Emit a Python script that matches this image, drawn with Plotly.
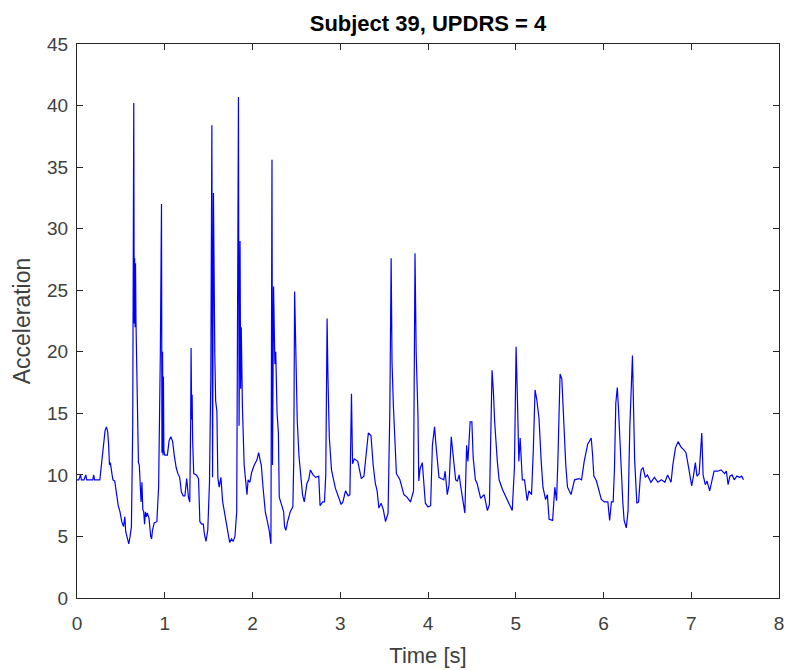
import plotly.graph_objects as go

time_s = [
    0.000, 0.02, 0.04, 0.05, 0.08, 0.10, 0.11, 0.15, 0.18, 0.19, 0.20, 0.26, 0.28, 0.30, 0.32, 0.335, 0.35, 0.36, 0.37, 0.38,
    0.39, 0.40, 0.41, 0.43, 0.45, 0.47, 0.49, 0.51, 0.53, 0.545, 0.555, 0.57, 0.59, 0.605, 0.62, 0.635, 0.647, 0.652, 0.657, 0.662,
    0.667, 0.672, 0.68, 0.69, 0.70, 0.71, 0.72, 0.73, 0.74, 0.75, 0.76, 0.77, 0.78, 0.79, 0.80, 0.82, 0.84, 0.85, 0.86, 0.88,
    0.91, 0.93, 0.95, 0.963, 0.968, 0.975, 0.98, 0.985, 0.99, 1.00, 1.03, 1.05, 1.07, 1.09, 1.11, 1.13, 1.15, 1.17, 1.19, 1.21,
    1.23, 1.25, 1.27, 1.285, 1.295, 1.30, 1.307, 1.312, 1.318, 1.33, 1.36, 1.385, 1.40, 1.42, 1.44, 1.45, 1.47, 1.49, 1.51, 1.525,
    1.537, 1.545, 1.555, 1.56, 1.565, 1.57, 1.58, 1.594, 1.605, 1.62, 1.64, 1.66, 1.68, 1.70, 1.72, 1.74, 1.76, 1.78, 1.80, 1.82,
    1.84, 1.847, 1.858, 1.865, 1.872, 1.885, 1.905, 1.92, 1.937, 1.95, 1.97, 1.99, 2.02, 2.05, 2.07, 2.09, 2.10, 2.12, 2.146, 2.17,
    2.19, 2.21, 2.222, 2.228, 2.240, 2.255, 2.265, 2.28, 2.295, 2.305, 2.33, 2.355, 2.365, 2.38, 2.40, 2.43, 2.46, 2.47, 2.48, 2.49,
    2.50, 2.51, 2.53, 2.545, 2.57, 2.59, 2.62, 2.64, 2.66, 2.69, 2.72, 2.755, 2.77, 2.80, 2.82, 2.835, 2.85, 2.86, 2.875, 2.90,
    2.945, 2.98, 3.01, 3.03, 3.06, 3.09, 3.11, 3.128, 3.14, 3.16, 3.20, 3.24, 3.27, 3.30, 3.32, 3.35, 3.375, 3.40, 3.42, 3.44,
    3.465, 3.49, 3.516, 3.545, 3.565, 3.58, 3.59, 3.605, 3.64, 3.68, 3.725, 3.76, 3.80, 3.835, 3.852, 3.865, 3.875, 3.885, 3.895, 3.91,
    3.935, 3.95, 3.97, 4.00, 4.03, 4.05, 4.075, 4.09, 4.105, 4.125, 4.15, 4.18, 4.195, 4.22, 4.24, 4.265, 4.285, 4.30, 4.315, 4.335,
    4.355, 4.37, 4.39, 4.42, 4.44, 4.455, 4.48, 4.50, 4.515, 4.54, 4.56, 4.60, 4.64, 4.677, 4.70, 4.72, 4.73, 4.745, 4.76, 4.79,
    4.81, 4.85, 4.88, 4.92, 4.96, 4.985, 5.004, 5.02, 5.035, 5.05, 5.075, 5.10, 5.13, 5.15, 5.18, 5.20, 5.22, 5.24, 5.265, 5.29,
    5.31, 5.34, 5.36, 5.38, 5.42, 5.445, 5.465, 5.48, 5.505, 5.525, 5.545, 5.57, 5.59, 5.63, 5.67, 5.72, 5.75, 5.78, 5.82, 5.86,
    5.875, 5.89, 5.92, 5.95, 5.975, 6.01, 6.05, 6.07, 6.09, 6.11, 6.125, 6.14, 6.157, 6.17, 6.18, 6.20, 6.22, 6.235, 6.26, 6.28,
    6.30, 6.33, 6.34, 6.355, 6.38, 6.40, 6.42, 6.43, 6.45, 6.477, 6.50, 6.54, 6.58, 6.62, 6.66, 6.70, 6.73, 6.77, 6.79, 6.82,
    6.85, 6.88, 6.92, 6.94, 6.96, 6.99, 7.005, 7.025, 7.047, 7.065, 7.09, 7.12, 7.135, 7.16, 7.18, 7.21, 7.235, 7.26, 7.30, 7.34,
    7.38, 7.40, 7.42, 7.44, 7.465, 7.49, 7.52, 7.55, 7.575, 7.595,
]

acceleration = [
    9.6, 9.6, 10.0, 9.6, 9.6, 10.0, 9.6, 9.6, 9.6, 10.0, 9.6, 9.6, 10.9, 12.5, 13.6, 13.9, 13.5, 12.5, 10.8, 11.0,
    10.2, 10.0, 9.6, 9.5, 8.5, 7.5, 7.0, 6.2, 5.8, 6.6, 5.4, 5.0, 4.4, 5.0, 5.8, 14.0, 40.2, 22.3, 27.6, 22.0,
    27.2, 22.5, 19.5, 15.2, 11.0, 10.8, 9.4, 7.8, 9.4, 7.2, 7.0, 6.0, 7.0, 6.6, 6.9, 6.5, 5.0, 4.8, 5.5, 6.1,
    6.2, 9.0, 20.0, 32.0, 11.8, 20.0, 11.6, 18.0, 12.0, 11.6, 11.6, 12.8, 13.1, 12.7, 11.5, 10.6, 10.1, 9.8, 8.6, 8.3,
    8.3, 9.7, 8.2, 7.8, 14.0, 20.3, 14.5, 16.5, 12.8, 10.1, 10.0, 9.7, 6.2, 6.0, 6.0, 5.3, 4.6, 5.5, 9.4, 18.0,
    38.4, 9.8, 32.9, 25.0, 30.0, 20.0, 16.0, 15.2, 9.8, 9.0, 9.8, 7.8, 7.0, 6.2, 5.5, 4.5, 4.8, 4.6, 5.0, 7.0,
    40.7, 14.0, 29.0, 17.0, 22.0, 15.5, 10.8, 9.6, 8.4, 9.6, 9.4, 10.2, 10.8, 11.2, 11.8, 11.1, 10.8, 9.0, 7.0, 6.2,
    5.5, 4.4, 35.6, 10.8, 25.3, 19.0, 20.0, 15.0, 13.4, 8.2, 7.5, 7.0, 5.8, 5.5, 6.2, 7.0, 7.4, 11.1, 24.9, 20.5,
    17.0, 14.4, 11.5, 10.4, 8.4, 7.8, 9.3, 9.6, 10.4, 10.0, 9.8, 9.9, 7.5, 7.8, 7.8, 10.0, 22.7, 17.9, 13.1, 10.4,
    8.9, 8.2, 7.6, 7.8, 8.7, 8.3, 8.4, 16.6, 10.9, 11.3, 11.1, 9.7, 9.9, 12.0, 13.4, 13.2, 10.8, 9.3, 8.7, 7.3,
    7.7, 7.2, 6.2, 6.9, 15.2, 27.6, 19.2, 15.7, 10.1, 9.6, 8.4, 8.2, 7.8, 8.7, 28.0, 20.0, 17.4, 15.0, 9.5, 10.5,
    11.0, 9.3, 7.7, 7.4, 7.5, 12.4, 13.9, 12.5, 11.5, 9.8, 9.7, 9.6, 10.3, 8.4, 9.2, 13.1, 11.7, 10.5, 9.6, 9.5,
    10.0, 9.2, 8.4, 6.9, 12.4, 11.1, 14.3, 14.3, 11.4, 9.6, 9.3, 8.1, 8.4, 7.1, 7.6, 14.0, 18.5, 16.8, 14.3, 11.1,
    9.6, 8.8, 8.3, 7.7, 7.1, 10.6, 20.4, 15.9, 11.1, 13.0, 9.6, 9.6, 7.9, 8.7, 8.4, 12.0, 16.9, 16.1, 14.6, 11.1,
    9.0, 8.0, 8.4, 6.4, 6.3, 9.0, 7.9, 11.1, 18.2, 17.8, 14.6, 10.8, 9.0, 8.4, 9.6, 9.7, 9.6, 11.1, 12.5, 13.0,
    11.7, 9.9, 9.5, 8.7, 8.0, 7.8, 7.8, 6.3, 7.8, 7.8, 10.5, 15.8, 17.1, 15.5, 13.9, 10.5, 7.8, 6.3, 5.7, 7.1,
    13.9, 19.7, 16.6, 11.2, 7.7, 7.8, 9.9, 10.4, 10.6, 9.8, 10.0, 9.4, 9.8, 9.4, 9.6, 9.4, 10.0, 9.4, 10.8, 12.2,
    12.7, 12.3, 12.0, 11.8, 11.0, 9.8, 9.1, 9.9, 11.0, 9.9, 10.1, 13.4, 10.0, 9.2, 9.5, 8.7, 9.4, 10.3, 10.3, 10.4,
    10.1, 10.3, 9.2, 9.9, 10.0, 9.6, 9.9, 9.8, 9.9, 9.6,
]

x_ticks = [0, 1, 2, 3, 4, 5, 6, 7, 8]
y_ticks = [0, 5, 10, 15, 20, 25, 30, 35, 40, 45]

FONT = "Arial, Liberation Sans, Helvetica, sans-serif"
AX = "#262626"
TXT = "#404040"

L, R, T, B = 77, 8, 44, 72
W, H = 787, 670

fig = go.Figure()
fig.add_trace(go.Scatter(
    x=time_s, y=acceleration, mode="lines",
    line=dict(color="#0000FF", width=1.2),
    showlegend=False, hoverinfo="x+y",
))

axis_common = dict(
    showline=True, linecolor=AX, linewidth=1, mirror="ticks",
    ticks="inside", ticklen=6, tickwidth=1, tickcolor=AX,
    showgrid=False, zeroline=False, automargin=False,
    tickfont=dict(family=FONT, size=19, color=TXT),
)

fig.update_layout(
    width=W, height=H,
    margin=dict(l=L, r=R, t=T, b=B),
    paper_bgcolor="white", plot_bgcolor="white",
    title=dict(text="<b>Subject 39, UPDRS = 4</b>", x=428 / W, xanchor="center",
               y=1 - 23 / H, yanchor="middle", automargin=False,
               font=dict(family=FONT, size=22, color="black")),
    xaxis=dict(range=[0, 8], tickvals=x_ticks, ticktext=[str(v) for v in x_ticks],
               title=dict(text="Time [s]", font=dict(family=FONT, size=22, color=TXT), standoff=14),
               ticklabelstandoff=8,
               **axis_common),
    yaxis=dict(range=[0, 45], tickvals=y_ticks, ticktext=[str(v) for v in y_ticks],
               title=dict(text="Acceleration", font=dict(family=FONT, size=23, color=TXT), standoff=10),
               ticklabelstandoff=4,
               **axis_common),
)

fig.write_html("out.html",
               config={"displayModeBar": False},
               post_script="document.body.style.margin='0';document.body.style.overflow='hidden';")
